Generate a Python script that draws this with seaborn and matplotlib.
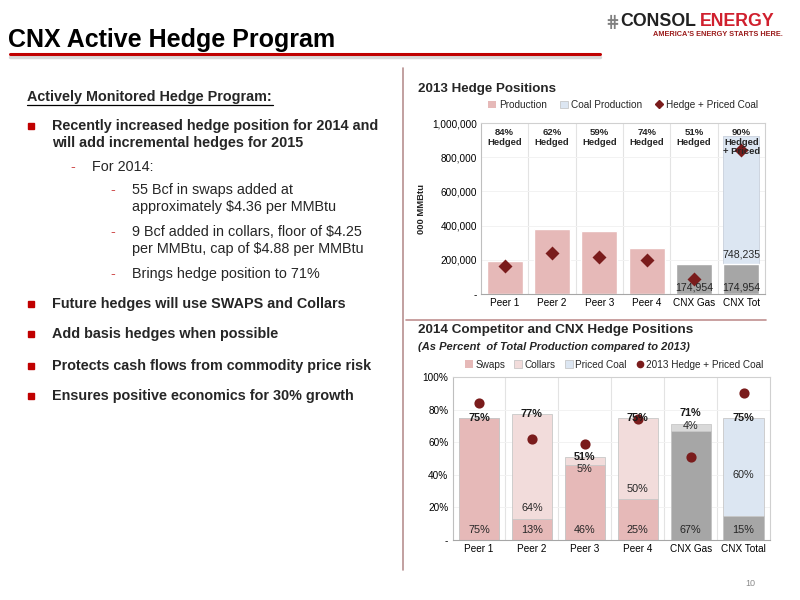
import matplotlib
matplotlib.use("Agg")
import matplotlib.pyplot as plt
import seaborn as sns
import pandas as pd
from matplotlib.patches import Patch
from matplotlib.lines import Line2D
from matplotlib.ticker import FuncFormatter

# ---------------- data ----------------
cats_2013 = ["Peer 1", "Peer 2", "Peer 3", "Peer 4", "CNX Gas", "CNX Tot"]
production_2013 = [193000, 383000, 371000, 270000, 174954, 174954]
coal_production_2013 = [0, 0, 0, 0, 0, 748235]
hedge_priced_2013 = [166000, 237000, 217000, 197000, 89000, 845000]
hedge_text_2013 = ["84%\nHedged", "62%\nHedged", "59%\nHedged", "74%\nHedged",
                   "51%\nHedged", "90%\nHedged\n+ Priced"]

cats_2014 = ["Peer 1", "Peer 2", "Peer 3", "Peer 4", "CNX Gas", "CNX Total"]
swaps_2014 = [75, 13, 46, 25, 67, 15]
collars_2014 = [0, 64, 5, 50, 4, 0]
priced_coal_2014 = [0, 0, 0, 0, 0, 60]
hedge_2013_pct = [84, 62, 59, 74, 51, 90]

# ---------------- style ----------------
sns.set_theme(style="white")
plt.rcParams["font.family"] = ["Liberation Sans", "DejaVu Sans"]

PINK = "#E6B9B8"
LPINK = "#F2DCDB"
BLUE = "#DCE6F2"
GRAY = "#A6A6A6"
LGRAY = "#D9D9D9"
DRED = "#7A1C1C"
RED = "#C00000"

W, H = 800, 600
fig = plt.figure(figsize=(8, 6), dpi=100)
fig.patch.set_facecolor("white")

def fx(x):
    return x / W

def fy(y):
    return 1 - y / H

def ftext(x, y, s, **kw):
    kw.setdefault("va", "center")
    kw.setdefault("ha", "left")
    return fig.text(fx(x), fy(y), s, **kw)

# ---------------- header ----------------
ftext(8, 40, "CNX Active Hedge Program", fontsize=18.0, fontweight="bold",
      family=["Liberation Sans Narrow", "Liberation Sans"], color="black")
fig.add_artist(Line2D([fx(10), fx(600)], [fy(56.5), fy(56.5)], color="#D8D8D8", lw=2.5))
fig.add_artist(Line2D([fx(10), fx(600)], [fy(54), fy(54)], color=RED, lw=2.2))

# logo
ftext(605, 22, "\u22d5", fontsize=12, color="#7F7F7F", fontweight="bold",
      family=["DejaVu Sans"])
ftext(620, 22, "CONSOL", fontsize=12.8, fontweight="bold", color="#222222")
ftext(700, 22, "ENERGY", fontsize=12.8, fontweight="bold", color="#D0202E")
ftext(783, 35, "AMERICA'S ENERGY STARTS HERE.", fontsize=5.3, color="#9B1B1B",
      ha="right", fontweight="bold")

# dividers
fig.add_artist(Line2D([fx(403), fx(403)], [fy(68), fy(570)], color="#B89090", lw=1.2))
fig.add_artist(Line2D([fx(406), fx(766)], [fy(320), fy(320)], color="#C09090", lw=1.2))

# ---------------- left text ----------------
FS = 10.4
ftext(27, 97, "Actively Monitored Hedge Program:", fontsize=FS, fontweight="bold")
fig.add_artist(Line2D([fx(27), fx(273)], [fy(105), fy(105)], color="black", lw=0.9))

def bullet(y):
    fig.add_artist(Line2D([fx(31)], [fy(y)], marker="s", markersize=4.8,
                          color=RED, lw=0))

def dash(x, y):
    ftext(x, y, "-", fontsize=FS, color="#D05050")

bullet(126)
ftext(52, 126, "Recently increased hedge position for 2014 and", fontsize=FS, fontweight="bold")
ftext(52, 143, "will add incremental hedges for 2015", fontsize=FS, fontweight="bold")
dash(70, 167)
ftext(92, 167, "For 2014:", fontsize=FS)
dash(110, 190)
ftext(132, 190, "55 Bcf in swaps added at", fontsize=FS)
ftext(132, 207, "approximately $4.36 per MMBtu", fontsize=FS)
dash(110, 232)
ftext(132, 232, "9 Bcf added in collars, floor of $4.25", fontsize=FS)
ftext(132, 249, "per MMBtu, cap of $4.88 per MMBtu", fontsize=FS)
dash(110, 274)
ftext(132, 274, "Brings hedge position to 71%", fontsize=FS)
for yy, s in [(304, "Future hedges will use SWAPS and Collars"),
              (334, "Add basis hedges when possible"),
              (366, "Protects cash flows from commodity price risk"),
              (396, "Ensures positive economics for 30% growth")]:
    bullet(yy)
    ftext(52, yy, s, fontsize=FS, fontweight="bold")

ftext(745, 583, "10", fontsize=6.5, color="#8C8C8C")

def style_axes(ax, n):
    for side in ["top", "right", "left", "bottom"]:
        ax.spines[side].set_visible(True)
        ax.spines[side].set_color("#D0D0D0")
        ax.spines[side].set_linewidth(0.8)
    ax.spines["bottom"].set_color("#A6A6A6")
    ax.spines["left"].set_color("#BFBFBF")
    for i in range(n - 1):
        ax.axvline(i + 0.5, color="#E3E3E3", lw=0.8, zorder=0)
    ax.yaxis.grid(True, color="#F2F2F2", lw=0.7)
    ax.set_axisbelow(True)
    ax.set_xlim(-0.5, n - 0.5)
    ax.set_xlabel("")
    ax.set_ylabel("")
    ax.tick_params(axis="both", length=0, labelsize=7.2, colors="black", pad=3)
    ax.set_facecolor("white")

# ---------------- top chart ----------------
ax1 = fig.add_axes([fx(481), fy(294), (765 - 481) / W, (294 - 123) / H])
df1 = pd.DataFrame({"cat": cats_2013, "prod": production_2013,
                    "coal": coal_production_2013, "hedge": hedge_priced_2013})
df1["total"] = df1["prod"] + df1["coal"]
pal1 = {c: (GRAY if c.startswith("CNX") else PINK) for c in cats_2013}

sns.barplot(data=df1, x="cat", y="total", order=cats_2013, color=BLUE,
            saturation=1, width=0.76, ax=ax1, errorbar=None,
            edgecolor="#C8D0DC", linewidth=0.6)
sns.barplot(data=df1, x="cat", y="prod", order=cats_2013, hue="cat",
            hue_order=cats_2013, palette=pal1, legend=False,
            saturation=1, width=0.76, ax=ax1, errorbar=None)
sns.pointplot(data=df1, x="cat", y="hedge", order=cats_2013, color=DRED,
              marker="D", linestyle="none", markersize=5.3, errorbar=None, ax=ax1)
style_axes(ax1, len(cats_2013))
ax1.set_ylim(0, 1000000)
ax1.set_yticks(range(0, 1000001, 200000))
ax1.yaxis.set_major_formatter(FuncFormatter(lambda v, p: "-" if v == 0 else f"{int(v):,}"))
ax1.set_ylabel("000 MMBtu", fontsize=6.8, fontweight="bold", labelpad=4)

for i, s in enumerate(hedge_text_2013):
    ax1.text(i, 968000, s, ha="center", va="top", fontsize=6.8,
             fontweight="bold", linespacing=1.05, zorder=5)
for i in (4, 5):
    ax1.text(i, 36000, f"{production_2013[i]:,}", ha="center", va="center",
             fontsize=7.6, color="#262626", zorder=5)
ax1.text(5, production_2013[5] + 58000, f"{coal_production_2013[5]:,}",
         ha="center", va="center", fontsize=7.6, color="#262626", zorder=5)

h1 = [Patch(facecolor=PINK, edgecolor="none", label="Production"),
      Patch(facecolor=BLUE, edgecolor="#BFBFBF", lw=0.5, label="Coal Production"),
      Line2D([], [], marker="D", color=DRED, lw=0, markersize=4, label="Hedge + Priced Coal")]
ax1.legend(handles=h1, loc="center", bbox_to_anchor=(0.5, 1.105), ncol=3,
           frameon=False, fontsize=7.2, handlelength=0.8, handleheight=0.8,
           handletextpad=0.3, columnspacing=1.3, borderaxespad=0)

ftext(418, 89, "2013 Hedge Positions", fontsize=9.6, fontweight="bold")

# ---------------- bottom chart ----------------
ax2 = fig.add_axes([fx(452.5), fy(540), (770 - 452.5) / W, (540 - 377) / H])
df2 = pd.DataFrame({"cat": cats_2014, "swaps": swaps_2014, "collars": collars_2014,
                    "coal": priced_coal_2014, "dot": hedge_2013_pct})
df2["total"] = df2["swaps"] + df2["collars"] + df2["coal"]
pal_base = {c: (GRAY if c.startswith("CNX") else PINK) for c in cats_2014}
pal_top = {"Peer 1": PINK, "Peer 2": LPINK, "Peer 3": LPINK, "Peer 4": LPINK,
           "CNX Gas": LGRAY, "CNX Total": BLUE}

sns.barplot(data=df2, x="cat", y="total", order=cats_2014, hue="cat",
            hue_order=cats_2014, palette=pal_top, legend=False, saturation=1,
            width=0.76, ax=ax2, errorbar=None, edgecolor="#C8C8C8", linewidth=0.6)
sns.barplot(data=df2, x="cat", y="swaps", order=cats_2014, hue="cat",
            hue_order=cats_2014, palette=pal_base, legend=False, saturation=1,
            width=0.76, ax=ax2, errorbar=None, edgecolor="#C8C8C8", linewidth=0.6)
sns.pointplot(data=df2, x="cat", y="dot", order=cats_2014, color=DRED,
              marker="o", linestyle="none", markersize=5.3, errorbar=None, ax=ax2)
style_axes(ax2, len(cats_2014))
ax2.set_ylim(0, 100)
ax2.set_yticks(range(0, 101, 20))
ax2.yaxis.set_major_formatter(FuncFormatter(lambda v, p: "-" if v == 0 else f"{int(v)}%"))

mid_labels = {1: (collars_2014[1], 19.6), 2: (collars_2014[2], 43.5),
              3: (collars_2014[3], 31.0), 4: (collars_2014[4], 70.0),
              5: (priced_coal_2014[5], 40.0)}
for i in range(len(cats_2014)):
    ax2.text(i, 6, f"{swaps_2014[i]}%", ha="center", va="center", fontsize=7.8,
             color="#262626", zorder=5)
    tot = swaps_2014[i] + collars_2014[i] + priced_coal_2014[i]
    ty = tot + (7 if i == 4 else 0)
    ax2.text(i, ty, f"{tot}%", ha="center", va="center", fontsize=7.8,
             fontweight="bold", color="#1A1A1A", zorder=5)
for i, (v, yy) in mid_labels.items():
    ax2.text(i, yy, f"{v}%", ha="center", va="center", fontsize=7.8,
             color="#262626", zorder=5)

h2 = [Patch(facecolor=PINK, edgecolor="none", label="Swaps"),
      Patch(facecolor=LPINK, edgecolor="#BFBFBF", lw=0.5, label="Collars"),
      Patch(facecolor=BLUE, edgecolor="#BFBFBF", lw=0.5, label="Priced Coal"),
      Line2D([], [], marker="o", color=DRED, lw=0, markersize=4.5,
             label="2013 Hedge + Priced Coal")]
ax2.legend(handles=h2, loc="center", bbox_to_anchor=(0.51, 1.075), ncol=4,
           frameon=False, fontsize=7.2, handlelength=0.8, handleheight=0.8,
           handletextpad=0.25, columnspacing=0.9, borderaxespad=0)

ftext(418, 330, "2014 Competitor and CNX Hedge Positions", fontsize=9.7, fontweight="bold")
ftext(418, 347, "(As Percent  of Total Production compared to 2013)", fontsize=8.0,
      fontweight="bold", fontstyle="italic")

fig.savefig("out.png", dpi=100, facecolor="white")
